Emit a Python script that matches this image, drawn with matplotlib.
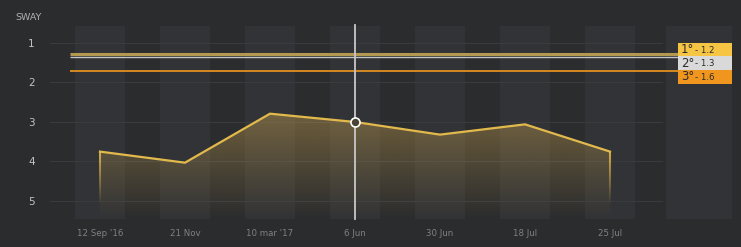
import matplotlib
matplotlib.use("Agg")
import matplotlib.pyplot as plt
import numpy as np
from matplotlib.collections import LineCollection
from matplotlib.patches import Rectangle

# data
dates = ["12 Sep '16", "21 Nov", "10 mar '17", "6 Jun", "30 Jun", "18 Jul", "25 Jul"]
sway = [3.75, 4.03, 2.79, 3.0, 3.32, 3.06, 3.75]
level_pos = [1.29, 1.36, 1.71]
level_names = ["1°", "2°", "3°"]
level_texts = ["1.2", "1.3", "1.6"]
y_ticks = [1, 2, 3, 4, 5]
cursor_idx = 3

bg = "#2b2c2e"
band = "#323336"
gold = "#e2b94c"
level_colors = ["#b39850", "#c4c4c4", "#f0981e"]
level_widths = [2.2, 1.0, 1.2]
box_colors = ["#f7c544", "#d9d9d9", "#f0961e"]

W, H = 741, 247
fig = plt.figure(figsize=(W / 100, H / 100), dpi=100, facecolor=bg)
# axes box in pixels: x 50..732, y 26..219
ax = fig.add_axes([50 / W, 1 - 219 / H, 682 / W, 193 / H], facecolor=bg)
x = np.arange(len(dates))
ax.set_xlim(-0.588, 7.435)
ax.set_ylim(5.456, 0.570)

# column bands
for p in range(len(dates)):
    ax.axvspan(p - 0.294, p + 0.294, color=band, lw=0, zorder=0)
ax.axvspan(6.655, 7.435, color=band, lw=0, zorder=0)

# grid
for t in y_ticks:
    ax.axhline(t, xmin=0, xmax=(662 - 50) / 682, color="#3a3b3f", lw=0.8, zorder=1)

# gradient fill below the line
ybot = 5.456
verts = [(x[0], ybot)] + list(zip(x, sway)) + [(x[-1], ybot)]
poly = plt.Polygon(verts, closed=True, facecolor="none", edgecolor="none")
ax.add_patch(poly)
n = 256
alpha = np.linspace(0.48, 0.0, n)[:, None]
grad = np.zeros((n, 1, 4))
grad[..., 0] = 0xc0 / 255
grad[..., 1] = 0x9c / 255
grad[..., 2] = 0x4c / 255
grad[..., 3] = alpha
im = ax.imshow(grad, extent=[x[0], x[-1], ybot, 2.6], aspect="auto",
               origin="upper", zorder=2, interpolation="bilinear")
im.set_clip_path(poly)

# fading vertical edges
for xi, yi in [(x[0], sway[0]), (x[-1], sway[-1])]:
    ys = np.linspace(yi, 5.1, 30)
    segs = [[(xi, ys[i]), (xi, ys[i + 1])] for i in range(len(ys) - 1)]
    cols = [(0xe2 / 255, 0xb9 / 255, 0x4c / 255, a) for a in np.linspace(0.9, 0.0, len(segs))]
    ax.add_collection(LineCollection(segs, colors=cols, linewidths=1.5, zorder=3))

ax.plot(x, sway, color=gold, lw=1.6, zorder=4, solid_joinstyle="miter")

# level lines
for pos, c, w in zip(level_pos, level_colors, level_widths):
    ax.hlines(pos, -0.353, 7.435, colors=c, linewidths=w, zorder=3)

# cursor
ax.axvline(x[cursor_idx], ymin=0, ymax=1.005, color="#c8c8c8", lw=1.3, zorder=5, clip_on=False)
ax.plot(x[cursor_idx], sway[cursor_idx], "o", ms=6.5, mfc="#4a4234", mec="white", mew=1.2, zorder=6)

# ticks
ax.set_xticks(x)
ax.set_xticklabels(dates, color="#808184", fontsize=6.2)
ax.set_yticks(y_ticks)
ax.set_yticklabels([str(t) for t in y_ticks], color="#c2c2c2", fontsize=7.5)
ax.tick_params(length=0)
ax.tick_params(axis="x", pad=7)
ax.tick_params(axis="y", pad=11)
for s in ax.spines.values():
    s.set_visible(False)

fig.text(15 / W, 1 - 17 / H, "SWAY", color="#b0b0b0", fontsize=6.8, va="center", ha="left")

# level boxes on the right
tops = [42.7, 56, 70]
for i in range(3):
    y0 = tops[i]
    fig.patches.append(Rectangle((678 / W, 1 - (y0 + 13.8) / H), 54 / W, 13.5 / H,
                                 transform=fig.transFigure, facecolor=box_colors[i],
                                 edgecolor="none", zorder=10))
    fig.text(681 / W, 1 - (y0 + 7) / H, level_names[i], color="#2a2a2a", fontsize=8.5,
             va="center", ha="left", zorder=11)
    fig.text(695 / W, 1 - (y0 + 7.5) / H, "- " + level_texts[i], color="#2a2a2a", fontsize=6.2,
             va="center", ha="left", zorder=11)

fig.savefig("out.png", dpi=100, facecolor=bg)
